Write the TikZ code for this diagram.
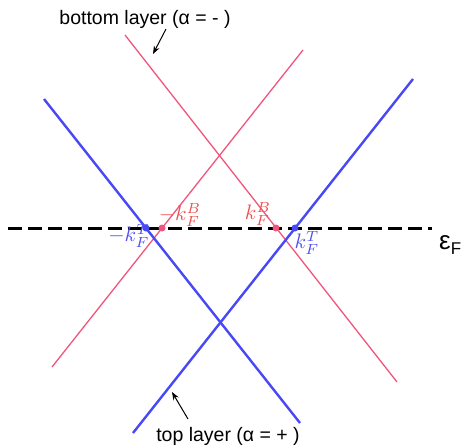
\documentclass[tikz,border=0pt]{standalone}
\usepackage{graphicx}
\usepackage{fontspec}
\setmainfont{Liberation Sans}
\usetikzlibrary{arrows.meta}
\definecolor{lblue}{RGB}{72,72,245}
\definecolor{lpink}{RGB}{240,85,125}
\definecolor{tred}{RGB}{238,80,80}
\definecolor{tblue}{RGB}{80,80,238}
\newcommand{\kbig}[1]{\scalebox{2.1}{$#1$}}
\tikzset{
  topline/.style={lblue, line width=2.4pt},
  botline/.style={lpink, line width=1.3pt},
  fermi/.style={black, line width=3pt, dash pattern=on 14pt off 6pt},
  dotp/.style={circle, fill=#1, inner sep=0pt, minimum size=7pt},
  klab/.style={text=#1, inner sep=0pt},
  caption/.style={inner sep=0pt, font=\fontsize{19.5}{22}\selectfont},
  pointer/.style={-{Stealth[length=8pt,width=6pt]}, line width=1pt}
}
\begin{document}
\begin{tikzpicture}[x=1pt,y=-1pt]
\useasboundingbox (0,0) rectangle (468,445);
% endpoints
\coordinate (b1a) at (44,99);  \coordinate (b1b) at (300,423);
\coordinate (b2a) at (133,433); \coordinate (b2b) at (413,79);
\coordinate (p1a) at (125,35); \coordinate (p1b) at (397,382);
\coordinate (p2a) at (52,367); \coordinate (p2b) at (303,50);
\coordinate (fa) at (8,228); \coordinate (fb) at (432,228);
% lines
\draw[botline] (p1a) -- (p1b);
\draw[botline] (p2a) -- (p2b);
\draw[topline] (b1a) -- (b1b);
\draw[topline] (b2a) -- (b2b);
\draw[fermi] (fa) -- (fb);
% dots
\node[dotp=lblue] (dbl) at (146,228) {};
\node[dotp=lpink] (dpl) at (162,228) {};
\node[dotp=lpink] (dpr) at (276,228) {};
\node[dotp=lblue] (dbr) at (295,228) {};
% k labels
\node[klab=tblue] (kTl) at (129,236) {\kbig{-k_F^T}};
\node[klab=tred] (kBl) at (180,215) {\kbig{-k_F^B}};
\node[klab=tred] (kBr) at (258,214) {\kbig{k_F^B}};
\node[klab=tblue] (kTr) at (307,243) {\kbig{k_F^T}};
% epsilon F
\node[inner sep=0pt, anchor=base west] (eF) at (439,249) {\fontsize{26}{28}\selectfont ε\raisebox{-5pt}{\fontsize{17}{19}\selectfont F}};
% captions
\node[caption] (cbot) at (145,19) {bottom layer (α = - )};
\node[caption] (ctop) at (228,436) {top layer (α = + )};
\coordinate (abt) at (166,29); \coordinate (abh) at (153,54);
\coordinate (att) at (188,419); \coordinate (ath) at (172,392);
\draw[pointer] (abt) -- (abh);
\draw[pointer] (att) -- (ath);
\end{tikzpicture}
\end{document}
